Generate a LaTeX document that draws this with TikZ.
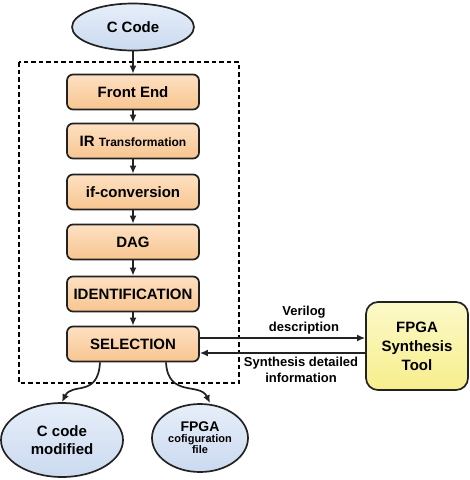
\documentclass[tikz,border=0pt]{standalone}
\usepackage{fontspec}
\setmainfont{Liberation Sans}
\usetikzlibrary{arrows.meta,shapes.geometric}
\definecolor{boxline}{HTML}{222222}
\definecolor{orangetop}{HTML}{FDE0C2}
\definecolor{orangebot}{HTML}{F8C590}
\definecolor{bluetop}{HTML}{E6EEF9}
\definecolor{bluebot}{HTML}{CBDAF0}
\definecolor{yeltop}{HTML}{FCF9C8}
\definecolor{yelbot}{HTML}{F7EE8C}
\tikzset{
  stagebox/.style={draw=boxline, line width=1.7pt, rounded corners=6pt,
    top color=orangetop, bottom color=orangebot,
    minimum width=132pt, minimum height=35pt, inner sep=0pt,
    font=\fontsize{15}{18}\selectfont\bfseries},
  blob/.style={ellipse, draw=boxline, line width=1.7pt,
    top color=bluetop, bottom color=bluebot, inner sep=0pt,
    align=center},
  toolbox/.style={draw=boxline, line width=1.7pt, rounded corners=12pt,
    top color=yeltop, bottom color=yelbot,
    minimum width=102pt, minimum height=88pt, inner sep=0pt, align=center,
    font=\fontsize{15}{19}\selectfont\bfseries},
  lbl/.style={align=center, font=\fontsize{13}{15.5}\selectfont\bfseries, inner sep=0pt},
  conn/.style={draw=boxline, line width=1.7pt, -{Latex[length=8pt,width=7pt]}},
}
\begin{document}
\begin{tikzpicture}[x=1pt,y=-1pt]
\useasboundingbox (0,0) rectangle (470,480);
% dashed frame
\draw[line width=2.9pt, dash pattern=on 4.5pt off 3pt] (19,62) rectangle (239,383);
% nodes
\node[blob, minimum width=122pt, minimum height=47pt,
  font=\fontsize{15}{18}\selectfont\bfseries] (ccode) at (133,27) {C Code};
\node[stagebox] (fe) at (133,92) {Front End};
\node[stagebox] (ir) at (133,141) {IR {\fontsize{12}{14}\selectfont Transformation}};
\node[stagebox] (ifc) at (133,192) {if-conversion};
\node[stagebox] (dag) at (133,242) {DAG};
\node[stagebox] (ident) at (133,294) {IDENTIFICATION};
\node[stagebox] (sel) at (133,344) {SELECTION};
\node[toolbox] (tool) at (417,346) {FPGA\\Synthesis\\Tool};
\node[blob, minimum width=122pt, minimum height=74pt,
  font=\fontsize{15}{18}\selectfont\bfseries] (cmod) at (62,440) {C code\\modified};
\node[blob, minimum width=96pt, minimum height=68pt] (cfg) at (200,438)
  {{\fontsize{14}{14}\selectfont\bfseries FPGA}\\[-1pt]{\fontsize{11}{13}\selectfont\bfseries cofiguration}\\[-1pt]{\fontsize{11}{13}\selectfont\bfseries file}};
% labels
\node[lbl] (verilog) at (304,320) {Verilog\\description};
\node[lbl] (synth) at (301,370) {Synthesis detailed\\information};
% connectors
\draw[conn] (ccode) -- (fe);
\draw[conn] (fe) -- (ir);
\draw[conn] (ir) -- (ifc);
\draw[conn] (ifc) -- (dag);
\draw[conn] (dag) -- (ident);
\draw[conn] (ident) -- (sel);
\draw[conn] ([yshift=6pt]sel.east) -- ([yshift=8pt]tool.west);
\draw[conn] ([yshift=-7pt]tool.west) -- ([yshift=-9pt]sel.east);
\draw[conn] ([xshift=-33pt]sel.south) .. controls (98,398) and (72,382) .. (cmod.north);
\draw[conn] ([xshift=33pt]sel.south) .. controls (168,398) and (200,382) .. ([xshift=10pt]cfg.north);
\end{tikzpicture}
\end{document}
